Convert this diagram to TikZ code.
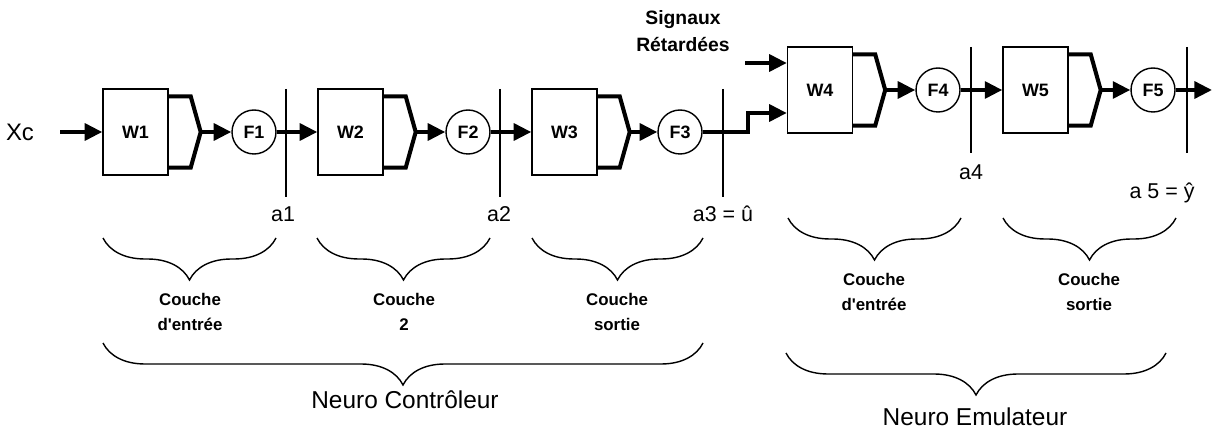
\documentclass[tikz,border=0pt]{standalone}
\usepackage{fontspec}
\setmainfont{Liberation Sans}
\usetikzlibrary{arrows.meta,positioning,calc,decorations.pathreplacing}
\tikzset{
  wbox/.style={draw, line width=0.8pt, minimum width=1.3cm, minimum height=1.72cm,
               inner sep=0pt, font=\fontsize{10.2}{12}\selectfont\bfseries},
  fcirc/.style={draw, circle, line width=0.8pt, minimum size=0.88cm, inner sep=0pt,
                font=\fontsize{10.2}{12}\selectfont\bfseries},
  sigarr/.style={-{Triangle[length=10pt, width=9.5pt]}, line width=2.3pt},
  fork/.style={line width=2.3pt},
  aline/.style={line width=0.9pt},
  alab/.style={font=\fontsize{12.2}{14}\selectfont},
  xlab/.style={font=\fontsize{13.6}{16}\selectfont},
  clab/.style={align=center, font=\fontsize{9.6}{14.2}\selectfont\bfseries},
  slab/.style={align=center, font=\fontsize{11}{15.3}\selectfont\bfseries},
  glab/.style={font=\fontsize{13.9}{16}\selectfont},
  brc/.style={decorate, decoration={brace, mirror, amplitude=0.84cm}, line width=0.8pt},
}
\newcommand{\wfork}[2]{\draw[fork] ($(#1.north east)+(0,8)$) -- ++(22,0) -- (#2)
  -- ($(#1.south east)+(22,-8)$) -- ++(-22,0);}

\begin{document}
\begin{tikzpicture}[x=0.02cm, y=-0.02cm]
    \useasboundingbox (0,0) rectangle (1212,432);
    % neuro controleur
    \node[xlab] (xc) at (20,132) {Xc};
    \coordinate (xin) at (60,132);
    \node[wbox] (w1) at (135.5,132) {W1};
    \coordinate (t1) at ($(w1.east)+(32,0)$);
    \node[fcirc] (f1) at (254,132) {F1};
    \node[wbox] (w2) at (350.5,132) {W2};
    \coordinate (t2) at ($(w2.east)+(32,0)$);
    \node[fcirc] (f2) at (468,132) {F2};
    \node[wbox] (w3) at (564.5,132) {W3};
    \coordinate (t3) at ($(w3.east)+(32,0)$);
    \node[fcirc] (f3) at (680,132) {F3};
    \wfork{w1}{t1} \wfork{w2}{t2} \wfork{w3}{t3}
    \draw[sigarr] (xin) -- (w1);
    \draw[sigarr] (t1) -- (f1);
    \draw[sigarr] (f1) -- (w2);
    \draw[sigarr] (t2) -- (f2);
    \draw[sigarr] (f2) -- (w3);
    \draw[sigarr] (t3) -- (f3);
    \draw[aline] (286,89) -- (286,197);
    \draw[aline] (500,89) -- (500,197);
    \draw[aline] (723,89) -- (723,197);
    \node[alab] (la1) at (283,214) {a1};
    \node[alab] (la2) at (499,214) {a2};
    \node[alab] (la3) at (723,214) {a3 = û};
    % neuro emulateur
    \node[slab] (sr) at (683,31) {Signaux\\Rétardées};
    \coordinate (srin) at (745,63);
    \coordinate (k3) at (748,132);
    \node[wbox] (w4) at (820,90) {W4};
    \coordinate (t4) at ($(w4.east)+(32,0)$);
    \node[fcirc] (f4) at (938,90) {F4};
    \node[wbox] (w5) at (1035.5,90) {W5};
    \coordinate (t5) at ($(w5.east)+(32,0)$);
    \node[fcirc] (f5) at (1153,90) {F5};
    \coordinate (yout) at (1212,90);
    \wfork{w4}{t4} \wfork{w5}{t5}
    \draw[sigarr] (srin) -- (srin -| w4.west);
    \draw[sigarr] (f3) -- (k3) |- ($(w4.west)+(0,23)$);
    \draw[sigarr] (t4) -- (f4);
    \draw[sigarr] (f4) -- (w5);
    \draw[sigarr] (t5) -- (f5);
    \draw[sigarr] (f5) -- (yout);
    \draw[aline] (971,47) -- (971,153);
    \draw[aline] (1187,47) -- (1187,153);
    \node[alab] (la4) at (971,172) {a4};
    \node[alab] (la5) at (1162,193) {a 5 = ŷ};
    % accolades
    \draw[brc] (103,238) -- (276,238);
    \draw[brc] (317,238) -- (490,238);
    \draw[brc] (532,238) -- (703,238);
    \draw[brc] (788,218) -- (961,218);
    \draw[brc] (1003,218) -- (1176,218);
    \node[clab] (c1) at (190,312) {Couche\\d\textquotesingle entrée};
    \node[clab] (c2) at (404,312) {Couche\\2};
    \node[clab] (c3) at (617,312) {Couche\\sortie};
    \node[clab] (c4) at (874,292) {Couche\\d\textquotesingle entrée};
    \node[clab] (c5) at (1089,292) {Couche\\sortie};
    \draw[brc] (103,343) -- (703,343);
    \draw[brc] (786,353) -- (1166,353);
    \node[glab] (nc) at (405,400) {Neuro Contrôleur};
    \node[glab] (ne) at (975,417) {Neuro Emulateur};
\end{tikzpicture}
\end{document}
